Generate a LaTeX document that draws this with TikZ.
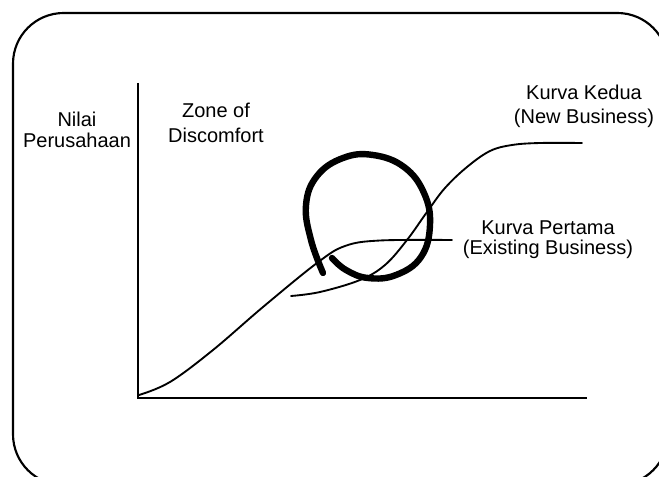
\documentclass[tikz,border=0pt]{standalone}
\usepackage{fontspec}
\setmainfont{Liberation Sans}
\begin{document}
\begin{tikzpicture}[x=0.75pt,y=-0.75pt,
  frame/.style={line width=1.6pt},
  axis/.style={line width=1.5pt},
  curve/.style={line width=1.4pt, line cap=round},
  brush/.style={line width=4.8pt, line cap=round, line join=round},
  lbl/.style={align=center, inner sep=0pt}]
\useasboundingbox (0,0) rectangle (659,477);
\begin{scope}
\clip (0,0) rectangle (659,477);
\draw[frame, rounded corners=38pt] (13,13) rectangle (668,485);
\end{scope}
% axes
\coordinate (ytop) at (138,83);
\coordinate (org) at (138,398);
\coordinate (xend) at (587,398);
\draw[axis] (ytop) -- (org) -- (xend);
% first curve (existing business)
\draw[curve] plot[smooth, tension=0.6] coordinates {(139,395) (170,382) (213,350) (263,307) (317,263) (345,246) (380,240.5) (452,240)};
% second curve (new business)
\draw[curve] plot[smooth, tension=0.6] coordinates {(291,296) (320,292) (360,280) (385,265) (407,240) (427,212) (445,188) (467,167) (490,151) (512,145) (540,143) (582,143)};
% zone of discomfort stroke
\draw[brush] plot[smooth, tension=0.7] coordinates {(323,273) (311,240) (306,205) (317,176) (343,158) (373,155) (404,167) (424,193) (430,225) (421,257) (396,275) (368,278) (346,270) (332,258)};
% labels
\node[lbl, anchor=base, font=\fontsize{15}{15.8}\selectfont] (nilai) at (77,148) {Nilai\\Perusahaan};
\node[lbl, anchor=base, font=\fontsize{15}{18.8}\selectfont] (zone) at (216,143) {Zone of\\Discomfort};
\node[lbl, anchor=base, font=\fontsize{15}{18}\selectfont] (kedua) at (584,124) {Kurva Kedua\\(New Business)};
\node[lbl, anchor=base, font=\fontsize{15}{15}\selectfont] (pertama) at (548,254) {Kurva Pertama\\(Existing Business)};
\end{tikzpicture}
\end{document}
